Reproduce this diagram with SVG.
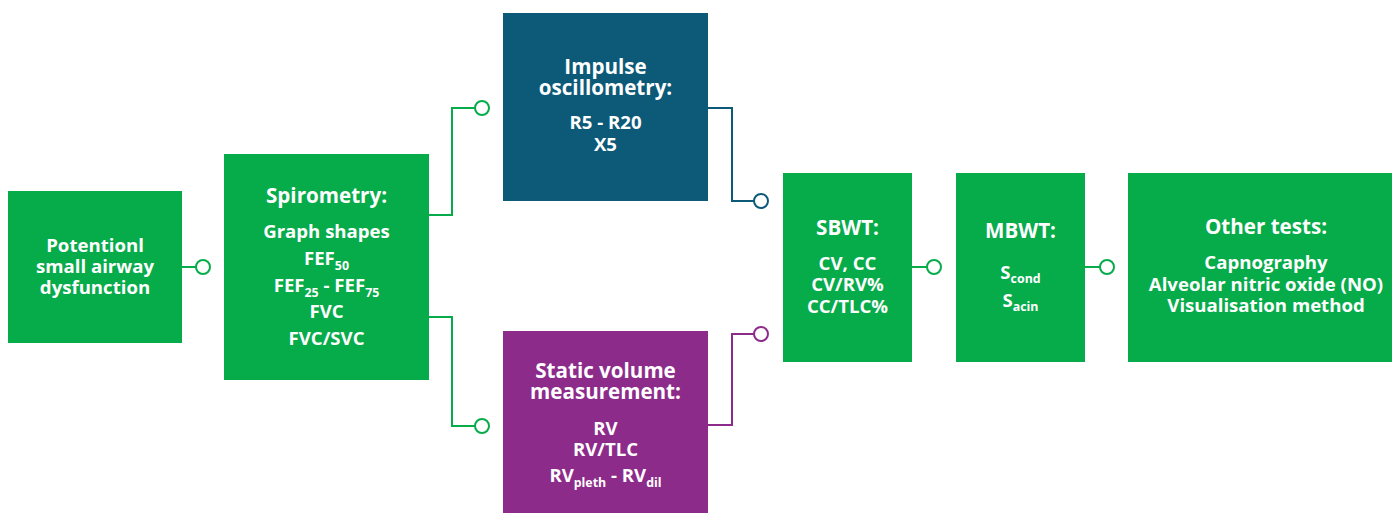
<svg xmlns="http://www.w3.org/2000/svg" width="1392" height="513" viewBox="0 0 1392 513">
<style>
.g{fill:#06AB4A}
.t{fill:#0C5A78}
.p{fill:#8D2B8B}
text{font-family:"Open Sans","Noto Sans","Liberation Sans",sans-serif;font-weight:700;fill:#fff;text-anchor:middle}
.h{font-size:20.6px}
.b{font-size:18.6px}
.s{font-size:12.4px}
.cg{stroke:#06AB4A}
.ct{stroke:#0C5A78}
.cp{stroke:#8D2B8B}
#connectors path{fill:none;stroke-width:2}
#connectors circle{fill:#fff;stroke-width:2}
</style>
<rect width="1392" height="513" fill="#fff"/>
<g id="connectors">
<path class="cg" d="M182,267H196"/>
<circle class="cg" cx="203" cy="267" r="7"/>
<path class="cg" d="M429,215H452V108H475"/>
<circle class="cg" cx="482" cy="108" r="7"/>
<path class="cg" d="M429,317H452V426H475"/>
<circle class="cg" cx="482" cy="426" r="7"/>
<path class="ct" d="M708,108H732V201H754"/>
<circle class="ct" cx="761" cy="201" r="7"/>
<path class="cp" d="M708,425H732V334H754"/>
<circle class="cp" cx="761" cy="334" r="7"/>
<path class="cg" d="M912,267H927"/>
<circle class="cg" cx="934" cy="267" r="7"/>
<path class="cg" d="M1085,267H1100"/>
<circle class="cg" cx="1107" cy="267" r="7"/>
</g>
<g id="node-potential">
<rect class="g" x="8" y="191" width="174" height="152"/>
<text class="b" x="95" y="252">Potentionl</text>
<text class="b" x="95" y="273">small airway</text>
<text class="b" x="95" y="294">dysfunction</text>
</g>
<g id="node-spirometry">
<rect class="g" x="224" y="154" width="205" height="226"/>
<text class="h" x="326.5" y="203">Spirometry:</text>
<text class="b" x="326.5" y="238">Graph shapes</text>
<text class="b" x="326.5" y="265">FEF<tspan class="s" dy="5">50</tspan></text>
<text class="b" x="326.5" y="292">FEF<tspan class="s" dy="5">25</tspan><tspan dy="-5"> - FEF</tspan><tspan class="s" dy="5">75</tspan></text>
<text class="b" x="326.5" y="318">FVC</text>
<text class="b" x="326.5" y="345">FVC/SVC</text>
</g>
<g id="node-impulse">
<rect class="t" x="503" y="13" width="205" height="188"/>
<text class="h" x="605.5" y="74">Impulse</text>
<text class="h" x="605.5" y="95">oscillometry:</text>
<text class="b" x="605.5" y="129">R5 - R20</text>
<text class="b" x="605.5" y="151">X5</text>
</g>
<g id="node-static">
<rect class="p" x="503" y="331" width="205" height="182"/>
<text class="h" x="605.5" y="378">Static volume</text>
<text class="h" x="605.5" y="399">measurement:</text>
<text class="b" x="605.5" y="435">RV</text>
<text class="b" x="605.5" y="456">RV/TLC</text>
<text class="b" x="605.5" y="482">RV<tspan class="s" dy="5">pleth</tspan><tspan dy="-5"> - RV</tspan><tspan class="s" dy="5">dil</tspan></text>
</g>
<g id="node-sbwt">
<rect class="g" x="783" y="173" width="129" height="189"/>
<text class="h" x="847.5" y="235">SBWT:</text>
<text class="b" x="847.5" y="270">CV, CC</text>
<text class="b" x="847.5" y="291">CV/RV%</text>
<text class="b" x="847.5" y="313">CC/TLC%</text>
</g>
<g id="node-mbwt">
<rect class="g" x="956" y="173" width="129" height="189"/>
<text class="h" x="1020.5" y="238">MBWT:</text>
<text class="b" x="1020.5" y="279">S<tspan class="s" dy="4">cond</tspan></text>
<text class="b" x="1020.5" y="307">S<tspan class="s" dy="4">acin</tspan></text>
</g>
<g id="node-other">
<rect class="g" x="1128" y="173" width="276" height="189"/>
<text class="h" x="1266" y="234">Other tests:</text>
<text class="b" x="1266" y="269">Capnography</text>
<text class="b" x="1266" y="291">Alveolar nitric oxide (NO)</text>
<text class="b" x="1266" y="312">Visualisation method</text>
</g>
</svg>
